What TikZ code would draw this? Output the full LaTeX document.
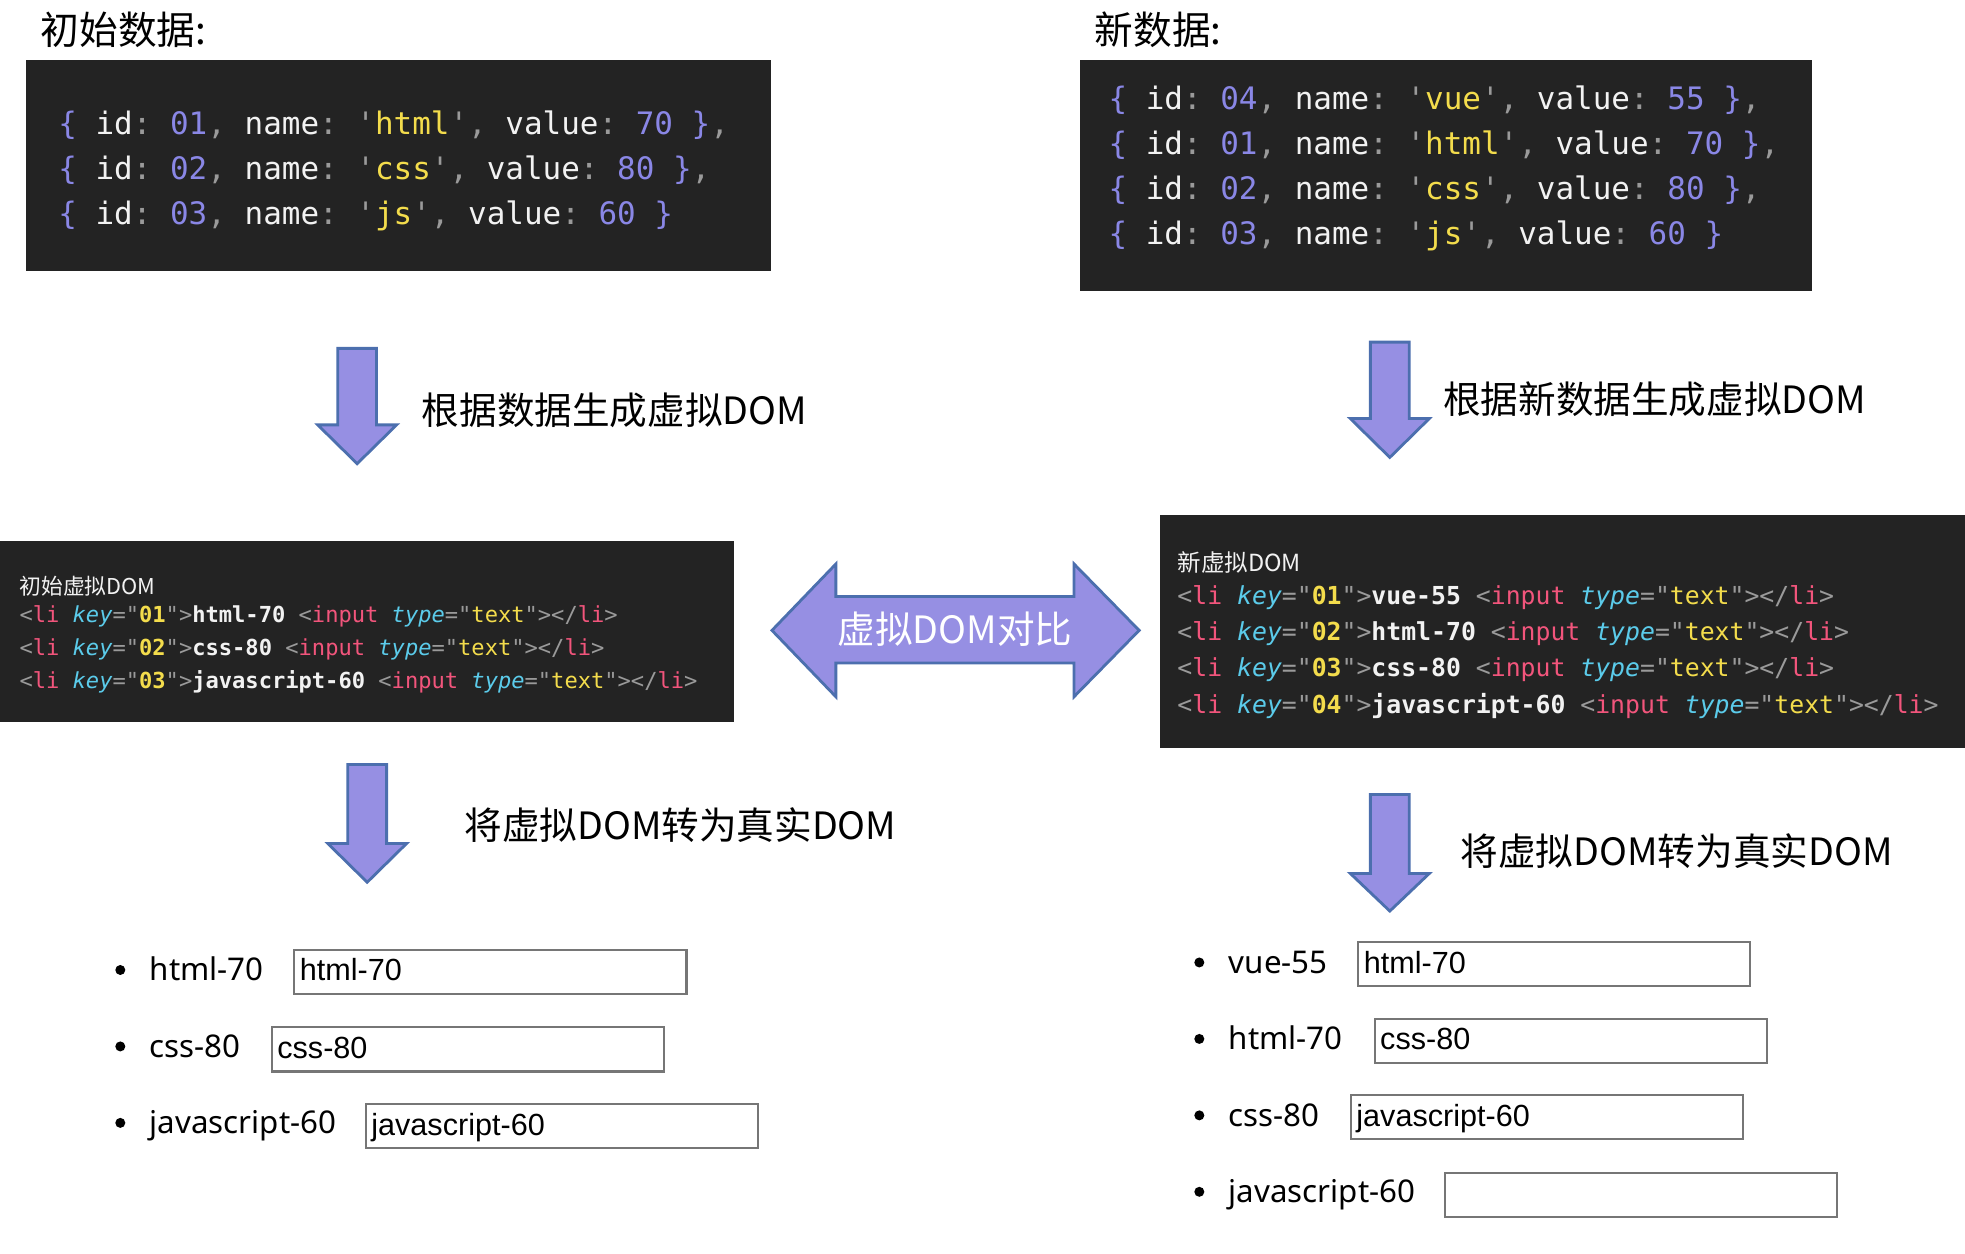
\documentclass[tikz,border=0pt]{standalone}
\usepackage{fontspec}
\setmainfont{Noto Sans}
\setmonofont{DejaVu Sans Mono}
\newfontfamily\cjk{Noto Sans CJK SC}
\newfontfamily\formfont{Liberation Sans}

\definecolor{codebg}{HTML}{232323}
\definecolor{cnum}{HTML}{8A87E6}
\definecolor{ckey}{HTML}{F2F2F2}
\definecolor{cpun}{HTML}{9A9A9A}
\definecolor{cstr}{HTML}{F3DC4C}
\definecolor{ctag}{HTML}{F2557C}
\definecolor{catt}{HTML}{5BCBEA}
\definecolor{arrowfill}{HTML}{968FE3}
\definecolor{arrowline}{HTML}{4C6FAE}
\definecolor{boxgray}{HTML}{767676}

% one object literal of the data array
\newcommand\dataline[4]{\textcolor{cnum}{\{} \textcolor{ckey}{id}\textcolor{cpun}{:} \textcolor{cnum}{#1}\textcolor{cpun}{,} \textcolor{ckey}{name}\textcolor{cpun}{:} \textcolor{cpun}{'}\textcolor{cstr}{#2}\textcolor{cpun}{'}\textcolor{cpun}{,} \textcolor{ckey}{value}\textcolor{cpun}{:} \textcolor{cnum}{#3} \textcolor{cnum}{\}}\textcolor{cpun}{#4}}
% one <li> element of the virtual DOM
\newcommand\domline[2]{\textcolor{cpun}{<}\textcolor{ctag}{li} \textcolor{catt}{\itshape key}\textcolor{cpun}{="}\textcolor{cstr}{\bfseries #1}\textcolor{cpun}{">}\textcolor{ckey}{\bfseries #2} \textcolor{cpun}{<}\textcolor{ctag}{input} \textcolor{catt}{\itshape type}\textcolor{cpun}{="}\textcolor{cstr}{text}\textcolor{cpun}{"></}\textcolor{ctag}{li}\textcolor{cpun}{>}}
% a downward block arrow: centre x, top, start of head, tip
\newcommand\blockdown[4]{%
  \draw[blockarrow] (#1-15.5,#2) -- (#1+15.5,#2) -- (#1+15.5,#3) -- (#1+31.5,#3)
    -- (#1,#4) -- (#1-31.5,#3) -- (#1-15.5,#3) -- cycle;}

\begin{document}
\begin{tikzpicture}[x=0.012532cm,y=-0.012532cm,
  blockarrow/.style={fill=arrowfill,draw=arrowline,line width=0.8pt,line join=miter},
  title/.style={anchor=west,inner sep=0pt,font=\cjk\fontsize{11}{13}\selectfont,text height=0.88em,text depth=0.12em},
  steplabel/.style={anchor=west,inner sep=0pt,font=\cjk\fontsize{10.7}{13}\selectfont,text height=0.88em,text depth=0.12em},
  codeA/.style={anchor=west,inner sep=0pt,font=\ttfamily\frenchspacing\fontsize{8.8}{10}\selectfont,text height=0.7em,text depth=0.2em},
  codeL/.style={anchor=west,inner sep=0pt,font=\ttfamily\frenchspacing\fontsize{6.28}{8}\selectfont,text height=0.7em,text depth=0.2em},
  codeR/.style={anchor=west,inner sep=0pt,font=\ttfamily\frenchspacing\fontsize{7.05}{9}\selectfont,text height=0.7em,text depth=0.2em},
  vhead/.style={anchor=west,inner sep=0pt,text=ckey,text height=0.88em,text depth=0.12em},
  dot/.style={circle,fill=black,inner sep=0pt,minimum size=0.1cm},
  item/.style={anchor=west,inner sep=0pt,font=\fontsize{8.9}{10}\selectfont,text height=0.72em,text depth=0.1em},
  inbox/.style={draw=boxgray,line width=0.6pt,inner sep=0pt,minimum width=3.92cm,minimum height=0.44cm,anchor=north west},
  intext/.style={anchor=west,inner sep=0pt,font=\formfont\fontsize{8.7}{10}\selectfont,text height=0.72em,text depth=0.2em},
]
\useasboundingbox (0,0) rectangle (1568,1000);

% ---------- initial data ----------
\node[title] (t1) at (32,25) {初始数据:};
\fill[codebg] (21,48) rectangle (615,216);
\node[codeA] (d1) at (46,100) {\dataline{01}{html}{70}{,}};
\node[codeA] (d2) at (46,136) {\dataline{02}{css}{80}{,}};
\node[codeA] (d3) at (46,172) {\dataline{03}{js}{60}{}};

% ---------- new data ----------
\node[title] (t2) at (873,25) {新数据:};
\fill[codebg] (862,48) rectangle (1446,232);
\node[codeA] (n1) at (884,80) {\dataline{04}{vue}{55}{,}};
\node[codeA] (n2) at (884,116) {\dataline{01}{html}{70}{,}};
\node[codeA] (n3) at (884,152) {\dataline{02}{css}{80}{,}};
\node[codeA] (n4) at (884,188) {\dataline{03}{js}{60}{}};

% ---------- data -> virtual DOM ----------
\blockdown{285}{278}{339}{370}
\node[steplabel] (s1) at (336,328) {根据数据生成虚拟DOM};
\blockdown{1109}{273}{334}{365}
\node[steplabel] (s2) at (1151,319) {根据新数据生成虚拟DOM};

% ---------- initial virtual DOM ----------
\fill[codebg] (0,432) rectangle (586,576);
\node[vhead,font=\cjk\fontsize{6.2}{8}\selectfont] (vh1) at (15,464) {初始虚拟DOM};
\node[codeL] (v1) at (15,490) {\domline{01}{html-70}};
\node[codeL] (v2) at (15,516) {\domline{02}{css-80}};
\node[codeL] (v3) at (15,542) {\domline{03}{javascript-60}};

% ---------- new virtual DOM ----------
\fill[codebg] (926,411) rectangle (1568,597);
\node[vhead,font=\cjk\fontsize{6.7}{8}\selectfont] (vh2) at (939,445) {新虚拟DOM};
\node[codeR] (w1) at (939,475) {\domline{01}{vue-55}};
\node[codeR] (w2) at (939,504) {\domline{02}{html-70}};
\node[codeR] (w3) at (939,533) {\domline{03}{css-80}};
\node[codeR] (w4) at (939,562) {\domline{04}{javascript-60}};

% ---------- diff arrow ----------
\draw[blockarrow] (616,503) -- (667,450) -- (667,476) -- (857,476) -- (857,450)
  -- (909,503) -- (857,556) -- (857,529) -- (667,529) -- (667,556) -- cycle;
\node[inner sep=0pt,font=\cjk\fontsize{10.7}{13}\selectfont,text=white,text height=0.88em,text depth=0.12em] (cmp) at (762,503) {虚拟DOM对比};

% ---------- virtual DOM -> real DOM ----------
\blockdown{293}{610}{673}{704}
\node[steplabel] (s3) at (370,659) {将虚拟DOM转为真实DOM};
\blockdown{1109}{634}{697}{727}
\node[steplabel] (s4) at (1165,680) {将虚拟DOM转为真实DOM};

% ---------- rendered list, initial ----------
\node[dot] (la) at (96,774) {};
\node[item] (lat) at (119,774) {html-70};
\node[inbox] (lab) at (234,757) {};
\node[intext] at ([xshift=0.06cm]lab.west) {html-70};
\node[dot] (lb) at (96,835) {};
\node[item] (lbt) at (119,835) {css-80};
\node[inbox] (lbb) at (216,819) {};
\node[intext] at ([xshift=0.06cm]lbb.west) {css-80};
\node[dot] (lc) at (96,896) {};
\node[item] (lct) at (119,896) {javascript-60};
\node[inbox] (lcb) at (291,880) {};
\node[intext] at ([xshift=0.06cm]lcb.west) {javascript-60};

% ---------- rendered list, after update ----------
\node[dot] (ra) at (957,768) {};
\node[item] (rat) at (980,768) {vue-55};
\node[inbox] (rab) at (1083,751) {};
\node[intext] at ([xshift=0.06cm]rab.west) {html-70};
\node[dot] (rb) at (957,829) {};
\node[item] (rbt) at (980,829) {html-70};
\node[inbox] (rbb) at (1096,812) {};
\node[intext] at ([xshift=0.06cm]rbb.west) {css-80};
\node[dot] (rc) at (957,890) {};
\node[item] (rct) at (980,890) {css-80};
\node[inbox] (rcb) at (1077,873) {};
\node[intext] at ([xshift=0.06cm]rcb.west) {javascript-60};
\node[dot] (rd) at (957,951) {};
\node[item] (rdt) at (980,951) {javascript-60};
\node[inbox] (rdb) at (1152,935) {};
\end{tikzpicture}
\end{document}
